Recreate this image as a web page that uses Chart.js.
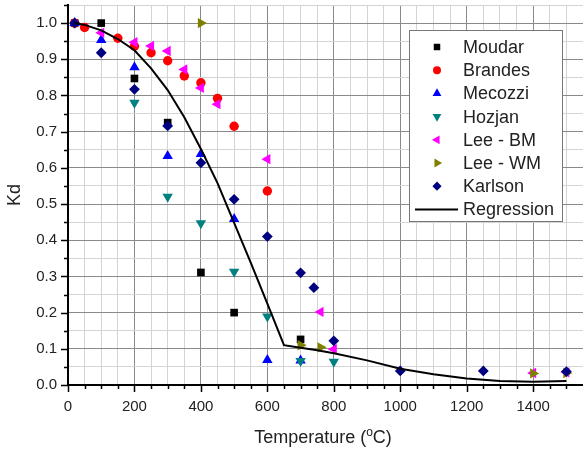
<!DOCTYPE html>
<html>
<head>
<meta charset="utf-8">
<script src="https://cdn.jsdelivr.net/npm/chart.js@4.4.1/dist/chart.umd.min.js"></script>
<style>
  html, body { margin: 0; padding: 0; background: #fff; overflow: hidden; }
  canvas { display: block; }
</style>
</head>
<body>
<canvas id="kd" width="583" height="450" style="width:583px;height:450px"></canvas>
<script>
// Retention factor Kd versus temperature, from several test series
const seriesNames = ['Moudar', 'Brandes', 'Mecozzi', 'Hozjan', 'Lee - BM', 'Lee - WM', 'Karlson', 'Regression'];

const moudarTemp = [20, 100, 200, 300, 400, 500, 700];
const moudarKd   = [1.0, 1.0, 0.847, 0.725, 0.311, 0.20, 0.126];

const brandesTemp = [20, 50, 150, 200, 250, 300, 350, 400, 450, 500, 600];
const brandesKd   = [1.0, 0.988, 0.958, 0.936, 0.918, 0.896, 0.854, 0.835, 0.792, 0.715, 0.536];

const mecozziTemp = [20, 100, 200, 300, 400, 500, 600, 700];
const mecozziKd   = [1.0, 0.953, 0.878, 0.633, 0.638, 0.459, 0.069, 0.068];

const hozjanTemp = [200, 300, 400, 500, 600, 700, 800];
const hozjanKd   = [0.78, 0.52, 0.447, 0.313, 0.189, 0.066, 0.064];

const leeBmTemp = [100, 200, 250, 300, 350, 400, 450, 600, 760, 800, 1400, 1500];
const leeBmKd   = [0.973, 0.947, 0.937, 0.923, 0.872, 0.821, 0.776, 0.624, 0.202, 0.099, 0.033, 0.035];

const leeWmTemp = [400, 700, 760, 1400, 1500];
const leeWmKd   = [1.0, 0.11, 0.104, 0.032, 0.033];

const karlsonTemp = [20, 100, 200, 300, 400, 500, 600, 700, 740, 800, 1000, 1250, 1500];
const karlsonKd   = [1.0, 0.918, 0.817, 0.716, 0.614, 0.513, 0.41, 0.31, 0.269, 0.122, 0.039, 0.039, 0.037];

const regressionTemp = [20, 50, 100, 150, 200, 250, 300, 350, 400, 450, 500, 550, 600, 650,
                        700, 750, 800, 900, 1000, 1100, 1200, 1300, 1400, 1500];
const regressionKd   = [1.0, 0.995, 0.98, 0.956, 0.925, 0.875, 0.815, 0.74, 0.652, 0.558, 0.448, 0.338, 0.225, 0.11,
                        0.103, 0.096, 0.088, 0.068, 0.045, 0.03, 0.018, 0.011, 0.009, 0.011];

const xTickLabels = ['0', '200', '400', '600', '800', '1000', '1200', '1400'];
const yTickLabels = ['0.0', '0.1', '0.2', '0.3', '0.4', '0.5', '0.6', '0.7', '0.8', '0.9', '1.0'];

const X_MAX = 1550, Y_MAX = 1.05;
const FONT = "'Liberation Sans', Arial, sans-serif";
const TEXT = '#222';

// minor tick positions: every 50 °C and every 0.05 Kd
const xTickValues = [];
for (let v = 0; v <= 1500; v += 50) xTickValues.push(v);
const yTickValues = [];
for (let i = 0; i <= 21; i++) yTickValues.push(Math.round(i * 5) / 100);

const isMajorX = v => v % 200 === 0;
const isMajorY = v => Math.abs(v * 10 - Math.round(v * 10)) < 1e-6;

const pts = (xs, ys) => xs.map((x, i) => ({ x: x, y: ys[i] }));

function marker(label, xs, ys, color, style, rotation, radius, order) {
  return {
    type: 'scatter', label, data: pts(xs, ys),
    backgroundColor: color, borderColor: color, borderWidth: 0,
    pointStyle: style, rotation, pointRadius: radius, pointHoverRadius: radius,
    order
  };
}

const datasets = [
  marker(seriesNames[0], moudarTemp, moudarKd, '#000000', 'rect', 0, 5.4, 0),
  marker(seriesNames[1], brandesTemp, brandesKd, '#ff0000', 'circle', 0, 4.7, -1),
  marker(seriesNames[2], mecozziTemp, mecozziKd, '#0000ff', 'triangle', 0, 6, -2),
  marker(seriesNames[3], hozjanTemp, hozjanKd, '#008080', 'triangle', 180, 6, -3),
  marker(seriesNames[4], leeBmTemp, leeBmKd, '#ff00ff', 'triangle', 270, 6, -4),
  marker(seriesNames[5], leeWmTemp, leeWmKd, '#808000', 'triangle', 90, 6, -5),
  marker(seriesNames[6], karlsonTemp, karlsonKd, '#000080', 'rectRot', 0, 5.4, -6),
  {
    type: 'line', label: seriesNames[7], data: pts(regressionTemp, regressionKd),
    borderColor: '#000000', borderWidth: 2, pointRadius: 0, tension: 0,
    fill: false, order: -7
  }
];

// short and long tick marks outside both axes
const axisTicks = {
  id: 'axisTicks',
  afterDraw(chart) {
    const { ctx, chartArea } = chart;
    const xs = chart.scales.x, ys = chart.scales.y;
    ctx.save();
    ctx.strokeStyle = '#000';
    ctx.lineWidth = 1.5;
    ctx.beginPath();
    xTickValues.forEach(v => {
      const px = Math.round(xs.getPixelForValue(v)) + 0.5;
      const len = isMajorX(v) ? 7 : 4;
      ctx.moveTo(px, chartArea.bottom);
      ctx.lineTo(px, chartArea.bottom + len);
    });
    yTickValues.forEach(v => {
      const py = Math.round(ys.getPixelForValue(v)) + 0.5;
      const len = isMajorY(v) ? 7 : 4;
      ctx.moveTo(chartArea.left, py);
      ctx.lineTo(chartArea.left - len, py);
    });
    ctx.stroke();
    ctx.restore();
  }
};

// x axis title with a raised "o" for degrees
const xTitle = {
  id: 'xTitle',
  afterDraw(chart) {
    const ctx = chart.ctx;
    const big = '18px ' + FONT, small = '12px ' + FONT;
    const a = 'Temperature (', b = 'o', c = 'C)';
    ctx.save();
    ctx.fillStyle = TEXT;
    ctx.textBaseline = 'alphabetic';
    ctx.font = big;
    const wa = ctx.measureText(a).width, wc = ctx.measureText(c).width;
    ctx.font = small;
    const wb = ctx.measureText(b).width;
    const total = wa + wb + wc;
    let x = 323 - total / 2;
    const y = 443;
    ctx.font = big; ctx.fillText(a, x, y); x += wa;
    ctx.font = small; ctx.fillText(b, x, y - 7); x += wb;
    ctx.font = big; ctx.fillText(c, x, y);
    ctx.restore();
  }
};

// boxed legend in the upper right of the plot
const boxLegend = {
  id: 'boxLegend',
  afterDraw(chart) {
    const ctx = chart.ctx;
    const left = 409.5, top = 30.5, w = 153, h = 191;
    ctx.save();
    ctx.fillStyle = '#fff';
    ctx.fillRect(left, top, w, h);
    ctx.strokeStyle = '#777';
    ctx.lineWidth = 1;
    ctx.strokeRect(left, top, w, h);
    ctx.font = '18px ' + FONT;
    ctx.textBaseline = 'middle';
    chart.data.datasets.forEach((ds, i) => {
      const y = 47 + i * 23.2;
      const sx = 437;
      if (ds.type === 'line') {
        ctx.strokeStyle = ds.borderColor;
        ctx.lineWidth = 2;
        ctx.beginPath();
        ctx.moveTo(415, y);
        ctx.lineTo(458, y);
        ctx.stroke();
      } else {
        ctx.fillStyle = ds.backgroundColor;
        ctx.strokeStyle = ds.borderColor;
        Chart.helpers.drawPoint(ctx, {
          pointStyle: ds.pointStyle, rotation: ds.rotation,
          radius: ds.pointRadius * 0.85, borderWidth: 0
        }, sx, y);
      }
      ctx.fillStyle = TEXT;
      ctx.fillText(ds.label, 463, y + 1);
    });
    ctx.restore();
  }
};

new Chart(document.getElementById('kd'), {
  type: 'scatter',
  data: { datasets },
  options: {
    responsive: false,
    animation: false,
    events: [],
    layout: { autoPadding: false, padding: { top: 5, right: 0, left: 0, bottom: 0 } },
    plugins: { legend: { display: false }, tooltip: { enabled: false } },
    scales: {
      x: {
        type: 'linear', min: 0, max: X_MAX,
        afterBuildTicks: s => { s.ticks = xTickValues.map(v => ({ value: v })); },
        afterFit: s => { s.height = 65; s.paddingLeft = 0; s.paddingRight = 0; },
        ticks: {
          autoSkip: false, maxRotation: 0, minRotation: 0, padding: 13,
          color: TEXT, font: { family: FONT, size: 15 },
          callback: v => (xTickLabels.find(l => Number(l) === v) || '')
        },
        grid: {
          drawTicks: false,
          color: c => isMajorX(c.tick.value) ? '#8a8a8a' : '#d4d4d4',
          lineWidth: 1
        },
        border: { display: true, color: '#000', width: 2 }
      },
      y: {
        type: 'linear', min: 0, max: Y_MAX,
        afterBuildTicks: s => { s.ticks = yTickValues.map(v => ({ value: v })); },
        afterFit: s => { s.width = 68; s.paddingTop = 0; s.paddingBottom = 0; },
        ticks: {
          autoSkip: false, padding: 11,
          color: TEXT, font: { family: FONT, size: 15 },
          callback: v => (yTickLabels.find(l => Math.abs(Number(l) - v) < 1e-6) || '')
        },
        grid: {
          drawTicks: false,
          color: c => isMajorY(c.tick.value) ? '#8a8a8a' : '#d4d4d4',
          lineWidth: 1
        },
        border: { display: true, color: '#000', width: 2 },
        title: {
          display: true, text: 'Kd', color: TEXT,
          font: { family: FONT, size: 18 }, padding: { top: 4, bottom: 0 }
        }
      }
    }
  },
  plugins: [axisTicks, xTitle, boxLegend]
});
</script>
</body>
</html>
